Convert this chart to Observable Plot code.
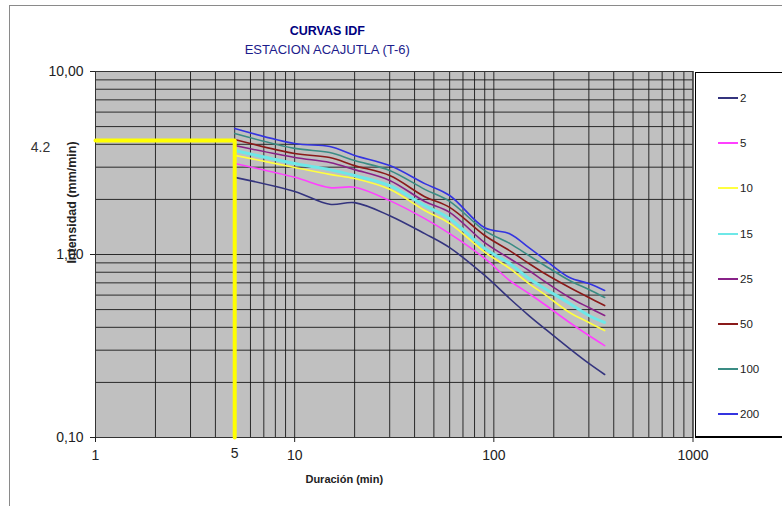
<!DOCTYPE html>
<html><head><meta charset="utf-8">
<script src="https://cdn.jsdelivr.net/npm/d3@7"></script>
<script src="https://cdn.jsdelivr.net/npm/@observablehq/plot@0.6"></script>
<style>
body{margin:0;width:782px;height:506px;overflow:hidden;background:#fff;font-family:Arial,"Liberation Sans",sans-serif;position:relative}
#frame{position:absolute;left:9px;top:5px;width:820px;height:620px;border-left:1px solid #8a8a8a;border-top:1px solid #8a8a8a}
#chart{position:absolute;left:0;top:0}
#legend{position:absolute;left:695px;top:72px;width:120px;height:363px;background:#fff;border-style:solid;border-color:#000;border-width:1px 0 2px 1px}
.item{position:absolute;left:22px;height:14px;display:flex;align-items:center;font-size:11.5px;color:#222}
.sw{width:20px;height:0;border-top:2px solid;margin-right:2px}
</style></head><body>
<div id="frame"></div>
<div id="chart"></div>
<div id="legend"></div>
<script>
// Durations (min)
const durations = [5, 10, 15, 20, 30, 45, 60, 90, 120, 150, 180, 240, 300, 360];
// Return periods (years)
const periods = ["2", "5", "10", "15", "25", "50", "100", "200"];
const colors = ["#34347e", "#ff40ff", "#ffff40", "#6ee8e8", "#882288", "#8a1a1a", "#3a8c84", "#3434e0"];
// Intensities (mm/min)
const i2   = [2.64, 2.21, 1.88, 1.92, 1.63, 1.30, 1.09, 0.768, 0.575, 0.464, 0.394, 0.306, 0.254, 0.221];
const i5   = [3.14, 2.64, 2.32, 2.33, 1.97, 1.57, 1.30, 0.951, 0.721, 0.612, 0.533, 0.425, 0.361, 0.318];
const i10  = [3.48, 2.99, 2.74, 2.60, 2.27, 1.74, 1.48, 1.03, 0.839, 0.694, 0.605, 0.482, 0.425, 0.384];
const i15  = [3.70, 3.14, 2.91, 2.70, 2.38, 1.85, 1.57, 1.08, 0.893, 0.740, 0.652, 0.540, 0.464, 0.425];
const i25  = [3.94, 3.39, 3.18, 2.91, 2.54, 1.95, 1.70, 1.16, 0.951, 0.818, 0.712, 0.582, 0.513, 0.464];
const i50  = [4.25, 3.56, 3.39, 3.06, 2.70, 2.07, 1.81, 1.27, 1.05, 0.893, 0.787, 0.660, 0.582, 0.526];
const i100 = [4.58, 3.80, 3.61, 3.26, 2.88, 2.27, 1.95, 1.35, 1.15, 0.987, 0.871, 0.721, 0.644, 0.582];
const i200 = [4.88, 4.04, 3.89, 3.48, 3.06, 2.44, 2.10, 1.40, 1.30, 1.09, 0.939, 0.748, 0.694, 0.636];
const series = [i2, i5, i10, i15, i25, i50, i100, i200];

// Reference reading
const refDuration = 5;
const refIntensity = 4.2;
const refLabel = "4.2";

// Ticks
const xTicks = [1, 10, 100, 1000];
const xExtraTick = [5];
const yTicks = [0.1, 1, 10];
const xGrid = [1,2,3,4,5,6,7,8,9,10,20,30,40,50,60,70,80,90,100,200,300,400,500,600,700,800,900,1000];
const yGrid = [0.1,0.2,0.3,0.4,0.5,0.6,0.7,0.8,0.9,1,2,3,4,5,6,7,8,9,10];

const title = "CURVAS IDF";
const subtitle = "ESTACION ACAJUTLA (T-6)";
const xLabel = "Duración (min)";
const yLabel = "Intensidad (mm/min)";

const rows = [];
series.forEach((s, k) => durations.forEach((d, j) => rows.push({d, v: s[j], p: periods[k]})));
const refPath = [{x: 1, y: refIntensity}, {x: refDuration, y: refIntensity}, {x: refDuration, y: 0.1}];
const fmtY = v => d3.format(".2f")(v).replace(".", ",");

const chart = Plot.plot({
  width: 782, height: 506,
  marginLeft: 95, marginRight: 89.5, marginTop: 71, marginBottom: 69,
  style: {fontFamily: "Arial, 'Liberation Sans', sans-serif", fontSize: "14px", color: "#222", background: "transparent", overflow: "visible"},
  x: {type: "log", domain: [1, 1000]},
  y: {type: "log", domain: [0.1, 10]},
  color: {domain: periods, range: colors},
  marks: [
    Plot.frame({fill: "#c0c0c0", stroke: null}),
    Plot.gridX(xGrid, {stroke: "#1a1a1a", strokeOpacity: 0.9, strokeWidth: 1}),
    Plot.gridY(yGrid, {stroke: "#1a1a1a", strokeOpacity: 0.9, strokeWidth: 1}),
    Plot.frame({stroke: "#333"}),
    Plot.axisY(yTicks, {tickFormat: fmtY, tickSize: 5, tickPadding: 7, label: null, fontSize: 14}),
    Plot.axisX(xTicks, {tickFormat: d => String(d), tickSize: 5, tickPadding: 8, label: null, fontSize: 14}),
    Plot.text(xExtraTick, {x: d => d, frameAnchor: "bottom", dy: 20, text: d => String(d), fontSize: 14, fill: "#222"}),
    Plot.line(rows, {x: "d", y: "v", stroke: "p", z: "p", curve: "catmull-rom", strokeWidth: r => r.p === "15" ? 3 : 1.6}),
    Plot.line(refPath, {x: "x", y: "y", stroke: "#ffff00", strokeWidth: 4}),
    Plot.text([refLabel], {y: () => refIntensity, frameAnchor: "left", dx: -55, dy: 7, fontSize: 14, fill: "#333", textAnchor: "middle"}),
    Plot.text([title], {frameAnchor: "top", dx: -67, dy: -45, fontWeight: "bold", fontSize: 12.5, fill: "#000080"}),
    Plot.text([subtitle], {frameAnchor: "top", dx: -67, dy: -27, fontSize: 13, fill: "#1c1c8c"}),
    Plot.text([xLabel], {frameAnchor: "bottom", dx: -50, dy: 45, fontWeight: "bold", fontSize: 11, fill: "#222"}),
    Plot.text([yLabel], {frameAnchor: "left", dx: -24, dy: -52, rotate: -90, textAnchor: "middle", fontWeight: "bold", fontSize: 12.5, fill: "#222"})
  ]
});
document.getElementById("chart").append(chart);

const legend = document.getElementById("legend");
periods.forEach((p, k) => {
  const it = document.createElement("div");
  it.className = "item";
  it.style.top = (25 + k * 45.2 - 7) + "px";
  const sw = document.createElement("span");
  sw.className = "sw";
  sw.style.borderTopColor = colors[k];
  const lb = document.createElement("span");
  lb.textContent = p;
  it.append(sw, lb);
  legend.append(it);
});
</script>
</body></html>
